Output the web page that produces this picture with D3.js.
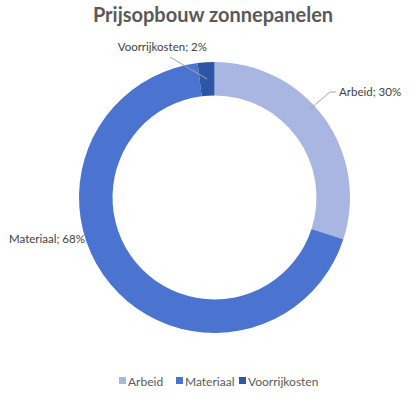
<!DOCTYPE html>
<html><head><meta charset="utf-8">
<script src="https://cdn.jsdelivr.net/npm/d3@7"></script>
<style>body{margin:0;background:#fff;} text{font-family:Lato,"Open Sans",sans-serif;}</style>
</head><body><svg id="c" width="415" height="402"></svg>
<script>
const categories = ["Arbeid", "Materiaal", "Voorrijkosten"];
const values = [30, 68, 2];
const colors = ["#a9b6e1", "#4a74cf", "#2d56a6"];
const labelText = ["Arbeid; 30%", "Materiaal; 68%", "Voorrijkosten; 2%"];

const svg = d3.select("#c");
const cx = 214.5, cy = 197.5, rOut = 135.5, rIn = 102;

svg.append("text").attr("x", 213).attr("y", 22).attr("text-anchor", "middle")
  .attr("font-size", 20).attr("font-weight", "bold").attr("fill", "#595959")
  .text("Prijsopbouw zonnepanelen");

const pie = d3.pie().sort(null).value(d => d)(values);
const arc = d3.arc().innerRadius(rIn).outerRadius(rOut);
const g = svg.append("g").attr("transform", `translate(${cx},${cy})`);
g.selectAll("path").data(pie).join("path")
  .attr("d", arc).attr("fill", (d, i) => colors[i]);

const lab = [
  {i:0, tx:339, ty:96, anchor:"start"},
  {i:1, tx:9, ty:243, anchor:"start"},
  {i:2, tx:207, ty:51, anchor:"end"}
];
const mid = d => (d.startAngle + d.endAngle) / 2;
lab.forEach(l => {
  const d = pie[l.i];
  if (l.i === 0) {
    const a = mid(d) - 0.12, r = (rIn + rOut) / 2 + 10;
    const p0 = [cx + r * Math.sin(a), cy - r * Math.cos(a)];
    svg.append("polyline").attr("points", [p0, [330, 92], [336, 92]].map(p => p.join(",")).join(" "))
      .attr("fill", "none").attr("stroke", "#a6a6a6").attr("stroke-width", 1);
  }
  if (l.i === 2) {
    const a = mid(d), r = (rIn + rOut) / 2;
    const p0 = [cx + r * Math.sin(a), cy - r * Math.cos(a)];
    svg.append("line").attr("x1", 170).attr("y1", 57).attr("x2", p0[0]).attr("y2", p0[1])
      .attr("stroke", "#a6a6a6").attr("stroke-width", 1);
  }
  svg.append("text").attr("x", l.tx).attr("y", l.ty).attr("text-anchor", l.anchor)
    .attr("font-size", 11.5).attr("fill", "#404040").text(labelText[l.i]);
});

const legX = [119, 176, 239];
const leg = svg.append("g");
categories.forEach((c, i) => {
  leg.append("rect").attr("x", legX[i]).attr("y", 377).attr("width", 7).attr("height", 7).attr("fill", colors[i]);
  leg.append("text").attr("x", legX[i] + 9).attr("y", 385.5).attr("font-size", 12).attr("fill", "#595959").text(c);
});
</script></body></html>
